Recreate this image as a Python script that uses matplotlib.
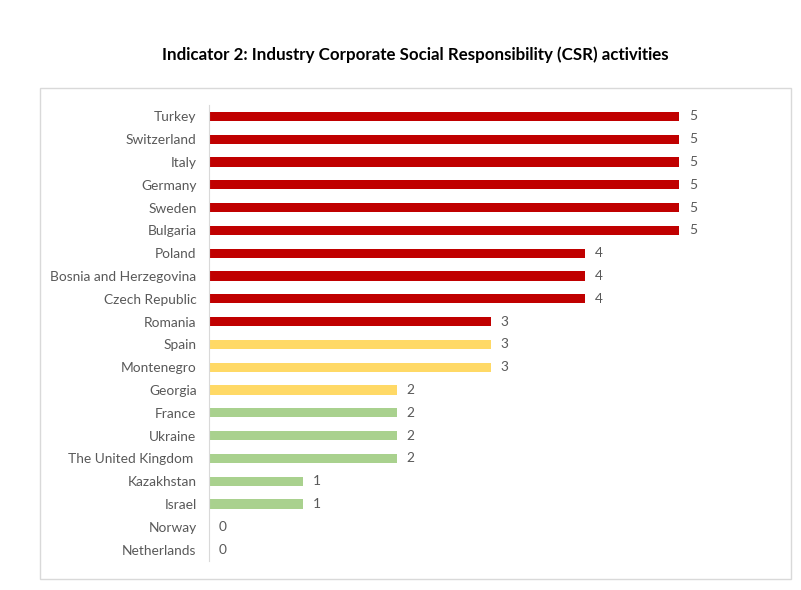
import matplotlib.pyplot as plt
from matplotlib.patches import Rectangle

# data, top to bottom
countries = ["Turkey", "Switzerland", "Italy", "Germany", "Sweden", "Bulgaria",
             "Poland", "Bosnia and Herzegovina", "Czech Republic", "Romania",
             "Spain", "Montenegro", "Georgia", "France", "Ukraine",
             "The United Kingdom ", "Kazakhstan", "Israel", "Norway", "Netherlands"]
scores = [5, 5, 5, 5, 5, 5, 4, 4, 4, 3, 3, 3, 2, 2, 2, 2, 1, 1, 0, 0]
groups = ["red"] * 10 + ["yellow"] * 3 + ["green"] * 7

palette = {"red": "#C00000", "yellow": "#FFD966", "green": "#A9D18E"}
text_col = "#595959"

plt.rcParams['font.family'] = ['Lato', 'DejaVu Sans']

W, H = 801, 590
fig = plt.figure(figsize=(W / 100, H / 100), dpi=100)

# chart frame
fig.patches.append(Rectangle((40 / W, 1 - 579 / H), 751 / W, 491 / H,
                             transform=fig.transFigure, fill=False,
                             edgecolor="#D9D9D9", linewidth=1))

fig.text(415 / W, 1 - 55 / H,
         "Indicator 2: Industry Corporate Social Responsibility (CSR) activities",
         ha="center", va="center", fontsize=12.2, fontweight="bold", color="black")

ax = fig.add_axes([209 / W, 1 - 561 / H, 564 / W, 456 / H])
ypos = list(range(len(countries)))
colors = [palette[g] for g in groups]
ax.barh(ypos, scores, height=0.4, color=colors)
ax.set_xlim(0, 6)
ax.set_ylim(len(countries) - 0.5, -0.5)
ax.set_yticks(ypos)
ax.set_yticklabels(countries, fontsize=9.9, color=text_col)
ax.tick_params(axis="y", length=0, pad=9)
ax.set_xticks([])
for s in ["top", "right", "bottom"]:
    ax.spines[s].set_visible(False)
ax.spines["left"].set_color("#D9D9D9")

for y, v in zip(ypos, scores):
    ax.annotate(str(v), (v, y), xytext=(7, 0), textcoords="offset points",
                ha="left", va="center", fontsize=9.9, color=text_col)

fig.savefig("out.png", dpi=100)
